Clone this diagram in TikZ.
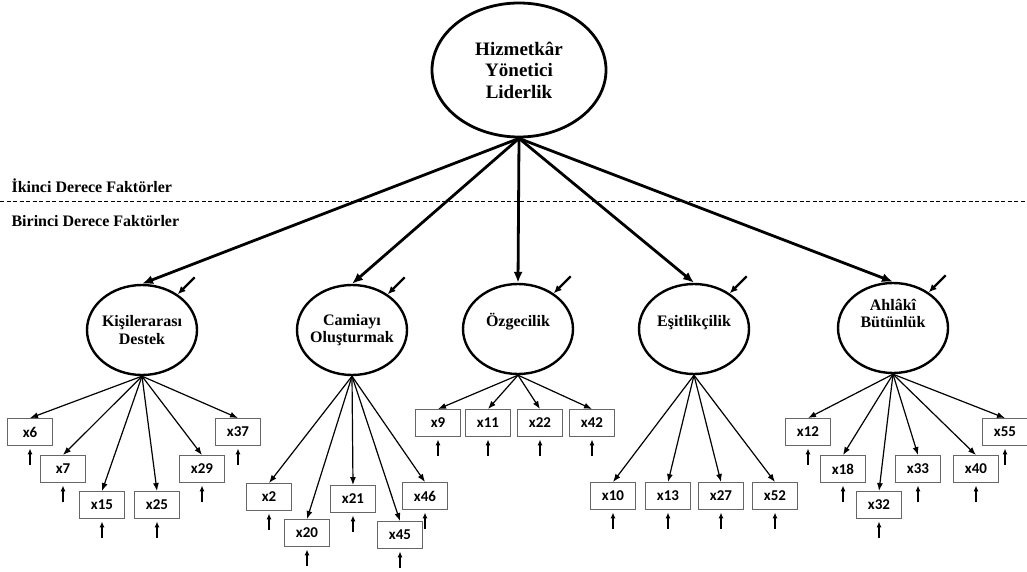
\documentclass[tikz,border=0pt]{standalone}
\usepackage{fontspec}
\setmainfont{Liberation Serif}
\newfontfamily\boxfont{Carlito}
\usetikzlibrary{arrows.meta}
\usetikzlibrary{positioning, shapes.geometric}

\begin{document}
\begin{tikzpicture}[x=1pt,y=-1pt]
\tikzset{
  latent/.style={ellipse, draw, line width=2.4pt, minimum width=110pt, minimum height=90pt,
    inner xsep=-5pt, inner ysep=0pt, align=center, font=\bfseries\fontsize{16}{17.5}\selectfont},
  obs/.style={rectangle, draw=black!60, line width=0.9pt, minimum width=45pt, minimum height=27pt,
    inner sep=0pt, font=\boxfont\bfseries\fontsize{15}{17}\selectfont},
  second/.style={line width=2.8pt, -{Latex[length=11pt,width=9pt]}},
  loading/.style={line width=1.2pt, -{Latex[length=8pt,width=6pt]}},
  ferr/.style={line width=2.2pt, -{Latex[length=8pt,width=7pt]}},
  oerr/.style={line width=1.6pt, -{Latex[length=6pt,width=5pt]}, shorten >=2.5pt},
  level/.style={anchor=west, font=\bfseries\fontsize{16}{17}\selectfont}
}
\useasboundingbox (0,0) rectangle (1027,572);

\node[ellipse, draw, line width=2.8pt, minimum width=174pt, minimum height=134pt, align=center,
  font=\bfseries\fontsize{19}{21.5}\selectfont] (hyl) at (519,70) {Hizmetkâr\\Yönetici\\Liderlik};

% levels
\node[level] (ikinci) at (8,186) {İkinci Derece Faktörler};
\node[level] (birinci) at (8,221) {Birinci Derece Faktörler};
\coordinate (dl) at (0,201);
\coordinate (dr) at (1027,201);
\draw[dash pattern=on 4pt off 2.5pt, line width=0.8pt] (dl) -- (dr);

% first order factors
\node[latent] (kd) at (142,330) {Kişilerarası\\Destek};
\node[latent] (co) at (352,330) {Camiayı\\Oluşturmak};
\node[latent, text depth=17.5pt] (oz) at (518,329) {Özgecilik};
\node[latent, text depth=15.5pt] (es) at (694,329) {Eşitlikçilik};
\node[latent, text depth=29pt] (ab) at (893,328) {Ahlâkî\\Bütünlük};

\foreach \f in {kd,co,oz,es,ab} {
  \draw[second] (hyl.south) -- (\f.north);
  \coordinate[above right=17pt and 17pt of \f.45] (\f-e);
  \draw[ferr] (\f-e) -- (\f.45);
}

% items
\foreach \n/\px/\py in {x6/30/432, x7/63/469, x15/102/505, x25/157/505, x29/202/469, x37/238/432,
    x2/269/497, x20/307/533, x21/353/499, x45/400/535, x46/425/496,
    x9/438/423, x11/488/423, x22/540/423, x42/592/423,
    x10/613/496, x13/668/496, x27/721/496, x52/775/496,
    x12/808/432, x18/843/469, x32/879/505, x33/918/469, x40/976/469, x55/1005/432} {
  \node[obs] (\n) at (\px,\py) {\n};
  \coordinate[below=19pt of \n.south] (\n-e);
  \draw[oerr] (\n-e) -- (\n.south);
}

\foreach \f/\items in {kd/{x6,x7,x15,x25,x29,x37}, co/{x2,x20,x21,x45,x46},
    oz/{x9,x11,x22,x42}, es/{x10,x13,x27,x52}, ab/{x12,x18,x32,x33,x40,x55}} {
  \foreach \b in \items {
    \draw[loading] (\f.south) -- (\b.north);
  }
}
\end{tikzpicture}
\end{document}
